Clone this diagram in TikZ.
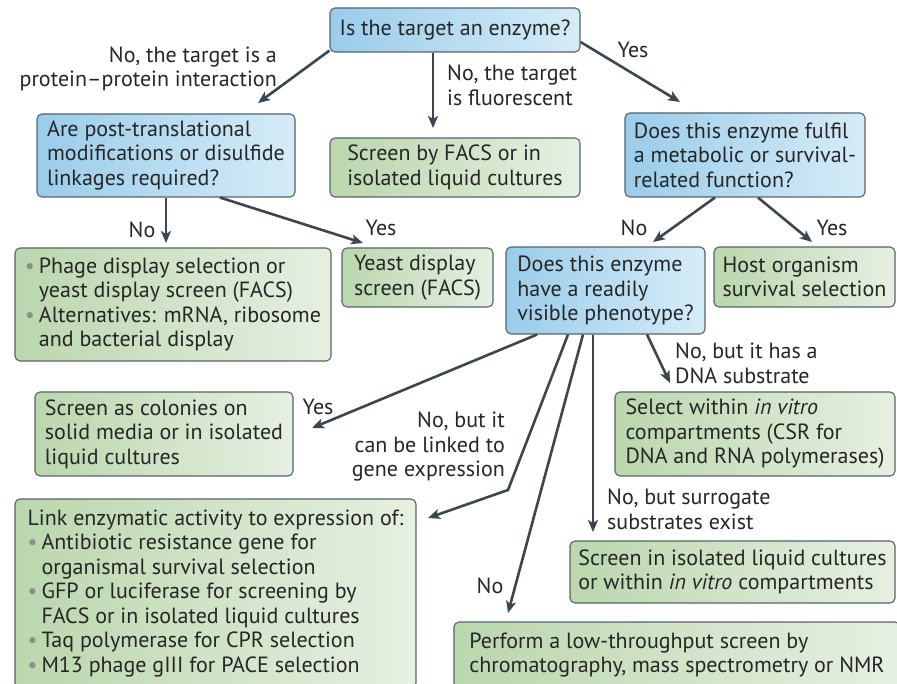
\documentclass[tikz,border=0pt]{standalone}
\usepackage{fontspec}
\setmainfont{PT Sans}
\usetikzlibrary{arrows.meta,calc}
\definecolor{bluedark}{HTML}{9ACCEA}
\definecolor{bluelight}{HTML}{D6ECF8}
\definecolor{greendark}{HTML}{BAD7AD}
\definecolor{greenlight}{HTML}{E6F0E1}
\definecolor{edge}{HTML}{56636A}
\definecolor{arrowc}{HTML}{3B4750}
\definecolor{txt}{HTML}{262626}
\definecolor{bulc}{HTML}{8A8F8C}
\newcommand\bl{\makebox[14pt][l]{\textcolor{bulc}{•}}}
\newcommand\ind{\hspace*{14pt}}
\begin{document}
\begin{tikzpicture}[x=1pt,y=-1pt,
  box/.style={draw=edge, line width=1.1pt, rounded corners=5pt, align=left, inner sep=0pt, text=txt, font=\fontsize{22}{24.5}\selectfont},
  bluebox/.style={box, left color=bluedark, right color=bluelight},
  greenbox/.style={box, left color=greendark, right color=greenlight},
  lab/.style={text=txt, font=\fontsize{22}{24.5}\selectfont, inner sep=0pt},
  arr/.style={draw=arrowc, line width=2.6pt, -{Stealth[length=12pt,width=10pt,inset=3pt]}},
]
\useasboundingbox (0,0) rectangle (897,684);

\node[bluebox, minimum width=250pt, minimum height=44pt] (top) at (455,30) {Is the target an enzyme?};
\node[bluebox, minimum width=258pt, minimum height=83pt] (pt) at (166,155.5) {Are post-translational\\modifications or disulfide\\linkages required?};
\node[greenbox, minimum width=250pt, minimum height=59pt] (facs) at (455,167.5) {Screen by FACS or in\\isolated liquid cultures};
\node[bluebox, minimum width=240pt, minimum height=84pt] (fulfil) at (745,155) {Does this enzyme fulfil\\a metabolic or survival-\\related function?};
\node[greenbox, minimum width=316pt, minimum height=113pt] (phage) at (173,304.5) {\bl Phage display selection or\\\ind yeast display screen (FACS)\\\bl Alternatives: mRNA, ribosome\\\ind and bacterial display};
\node[greenbox, minimum width=151pt, minimum height=59pt] (yeast) at (417.5,277.5) {Yeast display\\screen (FACS)};
\node[bluebox, minimum width=199pt, minimum height=87pt] (pheno) at (605.5,290.5) {Does this enzyme\\have a readily\\visible phenotype?};
\node[greenbox, minimum width=181pt, minimum height=60pt] (host) at (804.5,277) {Host organism\\survival selection};
\node[greenbox, minimum width=258pt, minimum height=84pt] (colonies) at (164,434) {Screen as colonies on\\solid media or in isolated\\liquid cultures};
\node[greenbox, minimum width=401pt, minimum height=189pt] (link) at (215.5,593.5) {Link enzymatic activity to expression of:\\\bl Antibiotic resistance gene for\\\ind organismal survival selection\\\bl GFP or luciferase for screening by\\\ind FACS or in isolated liquid cultures\\\bl Taq polymerase for CPR selection\\\bl M13 phage gIII for PACE selection};
\node[greenbox, minimum width=280pt, minimum height=84pt] (select) at (755,434) {Select within \textit{in vitro}\\compartments (CSR for\\DNA and RNA polymerases)};
\node[greenbox, minimum width=325pt, minimum height=62pt] (isol) at (732.5,572) {Screen in isolated liquid cultures\\or within \textit{in vitro} compartments};
\node[greenbox, minimum width=446pt, minimum height=66pt] (perform) at (677,655) {Perform a low-throughput screen by\\chromatography, mass spectrometry or NMR};

\node[lab, align=right, anchor=east] (l1) at (277,69) {No, the target is a\\protein–protein interaction};
\node[lab, align=left, anchor=west] (l2) at (447,85.5) {No, the target\\is fluorescent};
\node[lab] (l3) at (633,50) {Yes};
\node[lab] (l4) at (142,230) {No};
\node[lab] (l5) at (381,228) {Yes};
\node[lab] (l6) at (634,228) {No};
\node[lab] (l7) at (832,228) {Yes};
\node[lab, align=left, anchor=west] (l8) at (675,363.5) {No, but it has a\\DNA substrate};
\node[lab] (l9) at (318,407) {Yes};
\node[lab, align=right, anchor=east] (l10) at (505,447) {No, but it\\can be linked to\\gene expression};
\node[lab, align=left, anchor=west] (l11) at (607,509.5) {No, but surrogate\\substrates exist};
\node[lab] (l12) at (490,586) {No};

\coordinate (e1) at (258,103);
\coordinate (e2) at (433,128);
\coordinate (e3) at (680,102);
\coordinate (e4) at (166,243);
\coordinate (e5) at (363,243);
\coordinate (e6) at (653,242);
\coordinate (e7) at (812,242);
\coordinate (e8) at (312,428);
\coordinate (b9) at (508,490);
\coordinate (e9) at (428,518);
\coordinate (e10) at (508,613);
\coordinate (e11) at (593,532);
\coordinate (e12) at (670,383);

\draw[arr] ([yshift=2pt]top.south west) -- (e1);
\draw[arr] ([xshift=-22pt]top.south) -- (e2);
\draw[arr] ([yshift=-12pt]top.east) -- (e3);
\draw[arr] (pt.south) -- (e4);
\draw[arr] ([xshift=54pt]pt.south) -- (e5);
\draw[arr] ([xshift=-30pt]fulfil.south) -- (e6);
\draw[arr] ([xshift=13pt]fulfil.south) -- (e7);
\draw[arr] ([xshift=-68.5pt]pheno.south) -- (e8);
\draw[arr] ([xshift=-37.5pt]pheno.south) -- (b9) -- (e9);
\draw[arr] ([xshift=-22.5pt]pheno.south) -- (e10);
\draw[arr] ([xshift=-12.5pt]pheno.south) -- (e11);
\draw[arr] ([xshift=41.5pt]pheno.south) -- (e12);
\end{tikzpicture}
\end{document}
